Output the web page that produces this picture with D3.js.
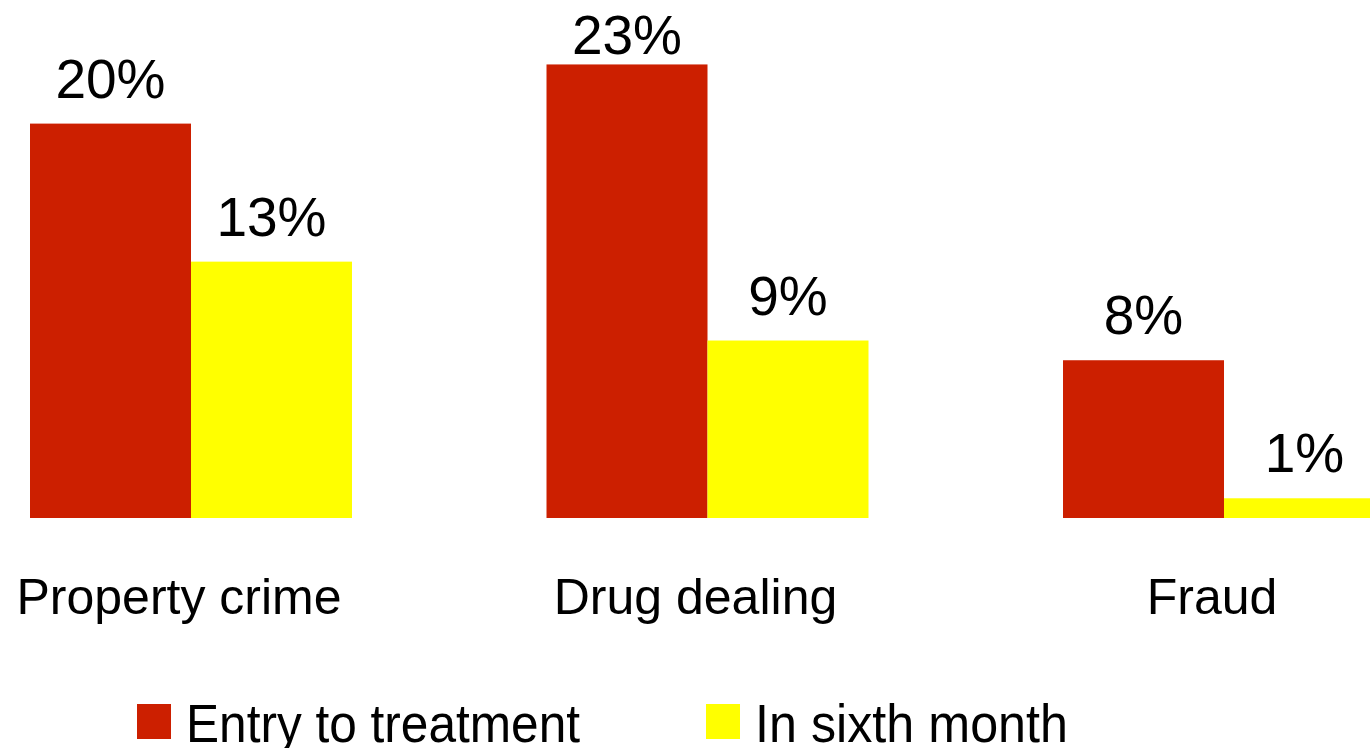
<!DOCTYPE html>
<html>
<head>
<meta charset="utf-8">
<script src="https://cdn.jsdelivr.net/npm/d3@7/dist/d3.min.js"></script>
<style>
  html, body { margin: 0; padding: 0; background: #fff; overflow: hidden; }
  svg { display: block; font-family: "Liberation Sans", Arial, sans-serif; }
</style>
</head>
<body>
<svg id="chart" width="1370" height="748"></svg>
<script>
const categories = ["Property crime", "Drug dealing", "Fraud"];
const seriesNames = ["Entry to treatment", "In sixth month"];
const entryValues = [20, 23, 8];
const sixthValues = [13, 9, 1];
const colors = ["#CC1F00", "#FFFF00"];

const svg = d3.select("#chart");

const x0 = d3.scaleBand().domain(categories).range([30, 1385]).paddingInner(0.3766).paddingOuter(0);
const x1 = d3.scaleBand().domain(seriesNames).range([0, x0.bandwidth()]).padding(0);
const y = d3.scaleLinear().domain([0, 25]).range([518, 25]);

const data = categories.map((c, i) => ({
  cat: c,
  vals: [
    { s: seriesNames[0], v: entryValues[i] },
    { s: seriesNames[1], v: sixthValues[i] }
  ]
}));

const color = d3.scaleOrdinal().domain(seriesNames).range(colors);

const g = svg.selectAll("g.grp").data(data).join("g")
  .attr("class", "grp")
  .attr("transform", d => `translate(${x0(d.cat)},0)`);

g.selectAll("rect").data(d => d.vals).join("rect")
  .attr("x", d => x1(d.s))
  .attr("y", d => y(d.v))
  .attr("width", x1.bandwidth())
  .attr("height", d => y(0) - y(d.v))
  .attr("fill", d => color(d.s));

g.selectAll("text.val").data(d => d.vals).join("text")
  .attr("class", "val")
  .attr("x", d => x1(d.s) + x1.bandwidth() / 2)
  .attr("y", d => Math.max(y(d.v) - 26, 54))
  .attr("text-anchor", "middle")
  .attr("font-size", 55)
  .attr("fill", "#000")
  .text(d => d.v + "%");

svg.selectAll("text.cat").data(categories).join("text")
  .attr("class", "cat")
  .attr("x", d => x0(d) + x0.bandwidth() / 2 - 12)
  .attr("y", 614)
  .attr("text-anchor", "middle")
  .attr("font-size", 50)
  .attr("fill", "#000")
  .text(d => d);

const legendX = [137, 706];
const legendLen = [394, 313];
const lg = svg.selectAll("g.leg").data(seriesNames).join("g")
  .attr("class", "leg")
  .attr("transform", (d, i) => `translate(${legendX[i]},704)`);
lg.append("rect").attr("width", 34).attr("height", 35).attr("fill", d => color(d));
lg.append("text").attr("x", 49).attr("y", 38).attr("font-size", 53).attr("fill", "#000")
  .attr("textLength", (d, i) => legendLen[i]).attr("lengthAdjust", "spacingAndGlyphs")
  .text(d => d);
</script>
</body>
</html>
